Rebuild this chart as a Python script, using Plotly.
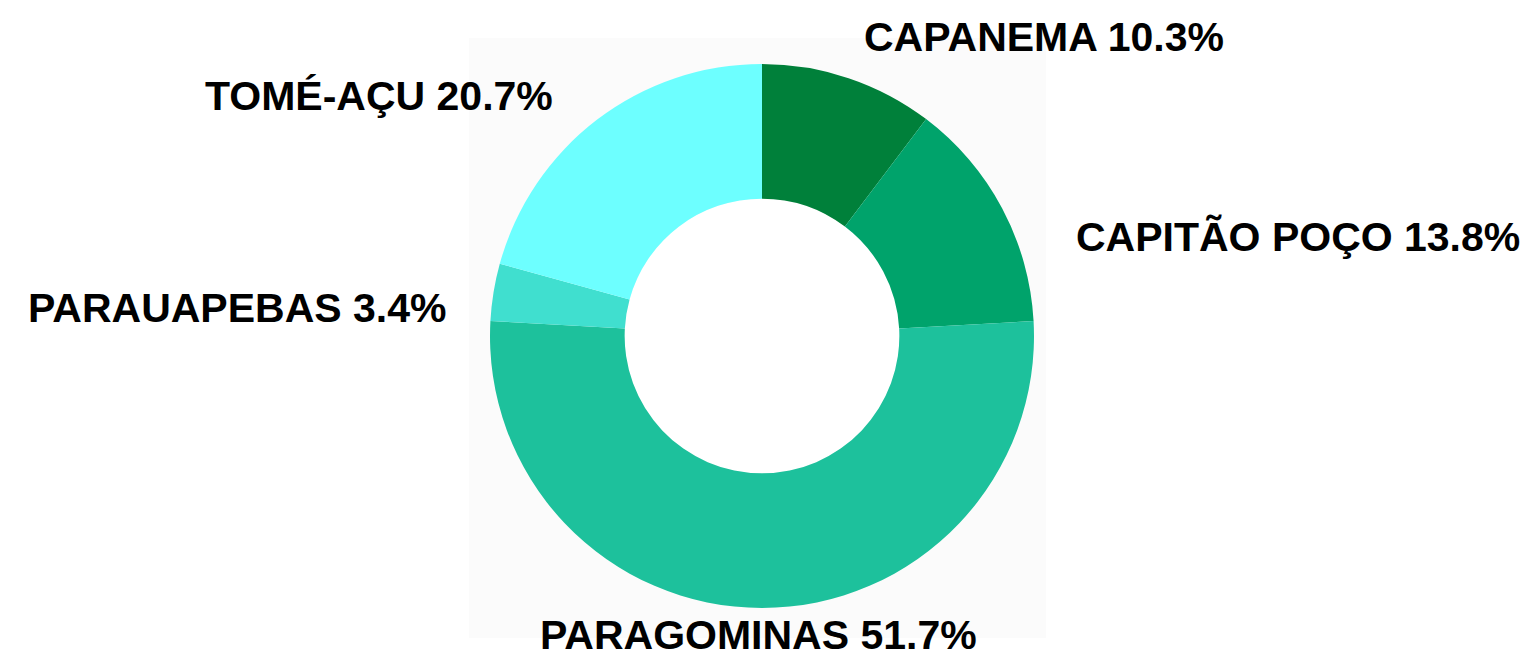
import plotly.graph_objects as go

# Share of each municipality (%), clockwise from 12 o'clock
municipios = ["CAPANEMA", "CAPITÃO POÇO", "PARAGOMINAS", "PARAUAPEBAS", "TOMÉ-AÇU"]
percentuais = [10.3, 13.8, 51.7, 3.4, 20.7]
cores = ["#00803a", "#00a36b", "#1dc19c", "#40dfcf", "#6dffff"]

# Label centres in pixels from the top-left corner, same order as municipios
label_x = [1044, 1298, 758, 237, 379]
label_y = [37, 237, 635, 308, 96]

W, H = 1526, 662
cx, cy, r = 762, 336, 272
hole = 0.505

fig = go.Figure()
fig.add_trace(go.Pie(
    labels=municipios,
    values=percentuais,
    marker=dict(colors=cores, line=dict(width=0)),
    hole=hole,
    sort=False,
    direction="clockwise",
    rotation=0,
    textinfo="none",
    hoverinfo="label+percent",
    showlegend=False,
    domain=dict(x=[(cx - r) / W, (cx + r) / W],
                y=[(H - cy - r) / H, (H - cy + r) / H]),
))

for nome, p, lx, ly in zip(municipios, percentuais, label_x, label_y):
    fig.add_annotation(
        text=f"<b>{nome} {p}%</b>",
        x=lx / W, y=1 - ly / H, xref="paper", yref="paper",
        xanchor="center", yanchor="middle", showarrow=False,
        font=dict(family="Liberation Sans, Arial, sans-serif", size=41, color="#000000"),
    )

# faint panel behind the ring, with a white centre
fig.add_shape(type="rect", xref="paper", yref="paper", layer="below",
              x0=469 / W, x1=1046 / W, y0=1 - 638 / H, y1=1 - 38 / H,
              fillcolor="#fbfbfb", line=dict(width=0))
hr = r * hole
fig.add_shape(type="circle", xref="paper", yref="paper", layer="below",
              x0=(cx - hr) / W, x1=(cx + hr) / W,
              y0=1 - (cy + hr) / H, y1=1 - (cy - hr) / H,
              fillcolor="#ffffff", line=dict(width=0))

fig.update_layout(
    width=W, height=H,
    margin=dict(l=0, r=0, t=0, b=0),
    paper_bgcolor="#ffffff",
    plot_bgcolor="#ffffff",
)

fig.write_html("out.html")
